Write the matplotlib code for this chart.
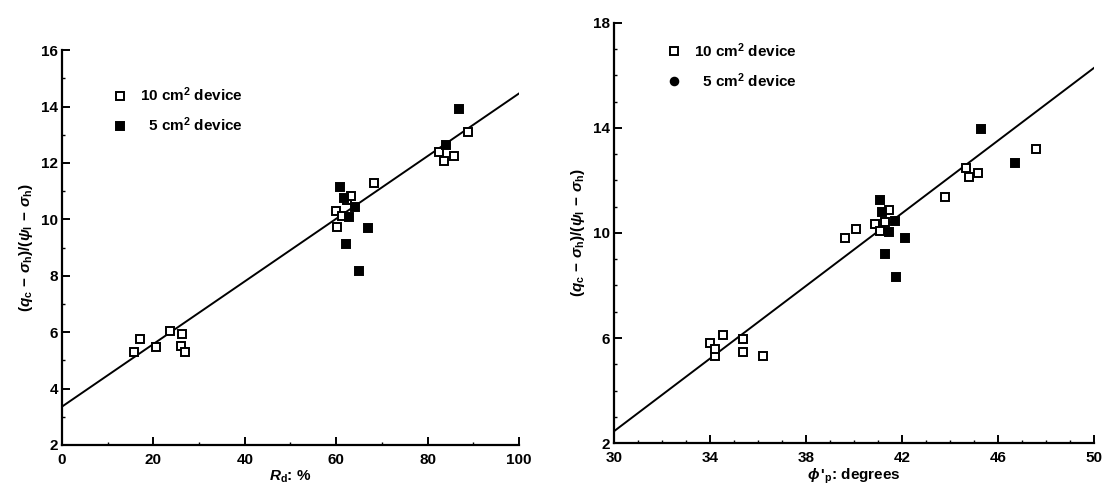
import matplotlib.pyplot as plt
from matplotlib.lines import Line2D
from matplotlib.ticker import MultipleLocator

# Left panel: relative density Rd (%)
rd_10 = [15.7, 17.1, 20.6, 23.7, 26.2, 26.0, 27.0, 60.0, 60.2, 61.2, 62.3, 63.3, 68.3, 82.6, 83.7, 85.8, 88.9]
ratio_rd_10 = [5.31, 5.76, 5.49, 6.05, 5.94, 5.51, 5.31, 10.31, 9.72, 10.13, 10.7, 10.84, 11.29, 12.39, 12.06, 12.24, 13.10]
rd_5 = [60.8, 61.7, 62.1, 62.9, 64.1, 65.1, 66.9, 84.0, 86.9]
ratio_rd_5 = [11.15, 10.76, 9.12, 10.1, 10.44, 8.18, 9.69, 12.65, 13.92]
fit_rd_x = [0, 100]
fit_rd_y = [3.36, 14.46]

# Right panel: peak friction angle (degrees)
phi_10 = [33.98, 34.2, 34.2, 34.56, 35.37, 35.37, 36.2, 39.63, 40.09, 40.88, 41.08, 41.29, 41.47, 43.81, 44.67, 44.8, 45.18, 47.6]
ratio_phi_10 = [5.80, 5.30, 5.59, 6.11, 5.96, 5.46, 5.31, 9.80, 10.17, 10.36, 10.07, 10.43, 10.86, 11.39, 12.46, 12.12, 12.28, 13.19]
phi_5 = [41.1, 41.18, 41.28, 41.45, 41.69, 41.76, 42.13, 45.28, 46.69]
ratio_phi_5 = [11.24, 10.80, 9.19, 10.05, 10.46, 8.31, 9.80, 13.97, 12.67]
fit_phi_x = [30, 50]
fit_phi_y = [2.45, 16.29]

plt.rcParams['font.family'] = ['Liberation Sans', 'DejaVu Sans']
plt.rcParams['font.weight'] = 'bold'
plt.rcParams['mathtext.fontset'] = 'custom'
plt.rcParams['mathtext.rm'] = 'Liberation Sans:bold'
plt.rcParams['mathtext.it'] = 'Liberation Sans:bold:italic'

fig = plt.figure(figsize=(11.09, 4.93), dpi=100)
ax1 = fig.add_axes([0.0559, 0.0974, 0.412, 0.801])
ax2 = fig.add_axes([0.5537, 0.1014, 0.4328, 0.852])

ylab = r'$(q_\mathrm{c}\,-\,\sigma_\mathrm{h})/(\psi_\mathrm{l}\,-\,\sigma_\mathrm{h})$'
fs = 11

def style(ax):
    for s in ['top', 'right']:
        ax.spines[s].set_visible(False)
    for s in ['left', 'bottom']:
        ax.spines[s].set_linewidth(1.6)
    ax.tick_params(which='major', direction='in', length=6, width=1.4, labelsize=fs, pad=3)
    ax.tick_params(axis='x', which='major', pad=6)
    ax.tick_params(which='minor', direction='in', length=2.5, width=1.0)
    for lab in ax.get_xticklabels() + ax.get_yticklabels():
        lab.set_fontweight('bold')

mk = dict(linestyle='none', markersize=5.5, markeredgewidth=1.4, markeredgecolor='black')

# left
ax1.plot(fit_rd_x, fit_rd_y, color='black', lw=1.4)
ax1.plot(rd_10, ratio_rd_10, marker='s', markerfacecolor='white', **mk)
ax1.plot(rd_5, ratio_rd_5, marker='s', markerfacecolor='black', **mk)
ax1.set_xlim(0, 100)
ax1.set_ylim(2, 16)
ax1.set_xticks([0, 20, 40, 60, 80, 100])
ax1.set_yticks([2, 4, 6, 8, 10, 12, 14, 16])
ax1.xaxis.set_minor_locator(MultipleLocator(10))
ax1.yaxis.set_minor_locator(MultipleLocator(1))
ax1.set_xlabel(r'$R_\mathrm{d}$: %', fontsize=fs, fontweight='bold', labelpad=1)
ax1.set_ylabel(ylab, fontsize=fs, labelpad=4)
style(ax1)
h1 = [Line2D([], [], marker='s', markerfacecolor='white', **mk),
      Line2D([], [], marker='s', markerfacecolor='black', **mk)]
ax1.legend(h1, [r'10 cm$^\mathrm{2}$ device', r'  5 cm$^\mathrm{2}$ device'],
           loc='upper left', bbox_to_anchor=(0.08, 0.945), frameon=False,
           fontsize=fs, handlelength=1.0, handletextpad=0.8, labelspacing=0.75)

# right
ax2.plot(fit_phi_x, fit_phi_y, color='black', lw=1.4)
ax2.plot(phi_10, ratio_phi_10, marker='s', markerfacecolor='white', **mk)
ax2.plot(phi_5, ratio_phi_5, marker='s', markerfacecolor='black', **mk)
ax2.set_xlim(30, 50)
ax2.set_ylim(2, 18)
ax2.set_xticks([30, 34, 38, 42, 46, 50])
ax2.set_yticks([2, 6, 10, 14, 18])
ax2.xaxis.set_minor_locator(MultipleLocator(1))
ax2.yaxis.set_minor_locator(MultipleLocator(1))
ax2.set_xlabel(r"$\phi\,'_\mathrm{p}$: degrees", fontsize=fs, fontweight='bold', labelpad=1)
ax2.set_ylabel(ylab, fontsize=fs, labelpad=4)
style(ax2)
h2 = [Line2D([], [], marker='s', markerfacecolor='white', **mk),
      Line2D([], [], marker='o', markerfacecolor='black', **mk)]
ax2.legend(h2, [r'10 cm$^\mathrm{2}$ device', r'  5 cm$^\mathrm{2}$ device'],
           loc='upper left', bbox_to_anchor=(0.08, 0.99), frameon=False,
           fontsize=fs, handlelength=1.0, handletextpad=0.8, labelspacing=0.75)

fig.savefig('out.png', dpi=100)
